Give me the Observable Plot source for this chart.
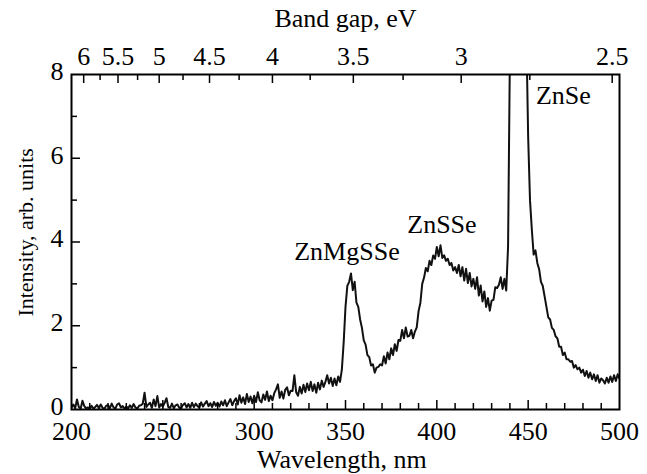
<!DOCTYPE html>
<html>
<head>
<meta charset="utf-8">
<script src="https://cdn.jsdelivr.net/npm/d3@7"></script>
<script src="https://cdn.jsdelivr.net/npm/@observablehq/plot@0.6"></script>
<style>
  html, body { margin: 0; padding: 0; background: #fff; }
  #chart { width: 647px; height: 474px; }
</style>
</head>
<body>
<div id="chart"></div>
<script>
// Wavelength grid (nm) and intensity values (arb. units)
const wavelengthStart = 200;
const intensity = [
  0.05,0.12,0.03,0.24,0.06,0.02,0.21,0.08,0.03,0.05,
  0.02,0.09,0.02,0.06,0.11,0.03,0.12,0.04,0.02,0.09,
  0.10,0.03,0.14,0.05,0.02,0.12,0.15,0.05,0.08,0.02,
  0.07,0.03,0.10,0.04,0.13,0.05,0.02,0.09,0.10,0.14,
  0.40,0.06,0.12,0.16,0.04,0.24,0.08,0.32,0.05,0.13,
  0.07,0.16,0.27,0.06,0.04,0.14,0.03,0.10,0.12,0.04,
  0.03,0.11,0.15,0.05,0.13,0.04,0.16,0.06,0.14,0.08,
  0.05,0.17,0.07,0.14,0.20,0.08,0.15,0.06,0.18,0.09,
  0.16,0.07,0.19,0.10,0.22,0.08,0.17,0.25,0.10,0.20,
  0.27,0.12,0.34,0.16,0.29,0.13,0.37,0.18,0.31,0.15,
  0.33,0.18,0.41,0.22,0.17,0.36,0.23,0.43,0.20,0.33,
  0.22,0.39,0.48,0.60,0.28,0.43,0.26,0.47,0.53,0.34,
  0.45,0.44,0.82,0.41,0.33,0.54,0.38,0.59,0.42,0.62,
  0.46,0.66,0.44,0.60,0.40,0.64,0.48,0.69,0.54,0.66,
  0.82,0.62,0.76,0.56,0.74,0.58,0.79,0.66,0.95,1.60,
  2.45,2.95,3.05,3.25,2.85,3.05,2.55,2.45,2.15,1.95,
  1.65,1.55,1.30,1.25,1.05,1.08,0.88,1.00,1.02,1.08,
  1.05,1.27,1.10,1.36,1.20,1.46,1.30,1.56,1.40,1.66,
  1.64,1.90,1.70,1.96,1.74,1.76,1.90,1.70,1.86,1.96,
  2.35,2.55,3.00,3.15,3.38,3.30,3.55,3.45,3.68,3.60,
  3.88,3.66,3.92,3.62,3.68,3.55,3.60,3.45,3.50,3.32,
  3.40,3.26,3.45,3.18,3.40,3.08,3.36,3.02,3.26,2.94,
  3.12,2.88,3.16,2.72,2.96,2.58,2.82,2.45,2.66,2.36,
  2.60,2.62,2.92,2.90,2.98,3.16,2.88,3.12,2.84,3.90,
  8.50,10.0,11.0,12.0,12.0,11.5,11.0,10.5,10.0,9.00,
  6.50,5.00,4.30,3.70,3.80,3.50,3.35,3.05,2.95,2.70,
  2.45,2.20,2.15,1.95,1.90,1.75,1.70,1.50,1.50,1.30,
  1.36,1.20,1.20,1.14,1.16,1.00,1.06,0.96,1.00,0.88,
  0.95,0.80,0.92,0.76,0.88,0.72,0.84,0.68,0.82,0.64,
  0.74,0.70,0.62,0.76,0.64,0.79,0.66,0.82,0.68,0.84,
  0.74
];

// Axis tick values
const bottomLabels = [200, 250, 300, 350, 400, 450, 500];
const bottomMinor = [210,220,230,240,260,270,280,290,310,320,330,340,360,370,380,390,410,420,430,440,460,470,480,490];
const bottomMajor = [250, 300, 350, 400, 450];
const leftLabels = [0, 2, 4, 6, 8];
const leftMinor = [1, 3, 5, 7];
const leftMajor = [2, 4, 6];
const energyLabels = [6, 5.5, 5, 4.5, 4, 3.5, 3, 2.5];
const energyMinor = [5.75, 5.25, 4.75, 4.25, 3.75, 3.25, 2.75];

// Peak annotations
const peakNames = ["ZnMgSSe", "ZnSSe", "ZnSe"];
const peakX = [350.8, 402.8, 469.3];
const peakY = [3.77, 4.42, 7.5];

// Titles
const xTitle = "Wavelength, nm";
const yTitle = "Intensity, arb. units";
const topTitle = "Band gap, eV";

const HC = 1240; // eV·nm conversion for the top axis

const spectrum = intensity.map((v, i) => ({wl: wavelengthStart + i, v}));
const peaks = peakNames.map((name, i) => ({name, x: peakX[i], y: peakY[i]}));

const W = 647, H = 474;
const mL = 71, mR = 28, mT = 74, mB = 65;
const innerW = W - mL - mR, innerH = H - mT - mB;
const minorLen = 6, majorLen = 9;
const FS = 26;
const font = "'Liberation Serif', Tinos, 'Times New Roman', 'Noto Serif', 'DejaVu Serif', serif";
const txt = {fill: "#000", fontSize: FS, lineAnchor: "middle"};

const chart = Plot.plot({
  width: W,
  height: H,
  marginLeft: mL,
  marginRight: mR,
  marginTop: mT,
  marginBottom: mB,
  x: {domain: [200, 500], axis: null},
  y: {domain: [0, 8], axis: null},
  style: {fontFamily: font, fontSize: FS + "px", background: "#fff", color: "#000"},
  marks: [
    // spectrum
    Plot.line(spectrum, {x: "wl", y: "v", stroke: "#111", strokeWidth: 2, clip: true, strokeLinejoin: "round"}),
    // bottom ticks (inward)
    Plot.tickX(bottomMinor, {x: d => d, stroke: "#000", strokeWidth: 1.5, insetTop: innerH - minorLen}),
    Plot.tickX(bottomMajor, {x: d => d, stroke: "#000", strokeWidth: 1.5, insetTop: innerH - majorLen}),
    // top ticks (inward), band gap energies converted to wavelength
    Plot.tickX(energyMinor, {x: e => HC / e, stroke: "#000", strokeWidth: 1.5, insetBottom: innerH - minorLen}),
    Plot.tickX(energyLabels, {x: e => HC / e, stroke: "#000", strokeWidth: 1.5, insetBottom: innerH - majorLen}),
    // left ticks (inward)
    Plot.tickY(leftMinor, {y: d => d, stroke: "#000", strokeWidth: 1.5, insetRight: innerW - minorLen}),
    Plot.tickY(leftMajor, {y: d => d, stroke: "#000", strokeWidth: 1.5, insetRight: innerW - majorLen}),
    // frame
    Plot.frame({stroke: "#000", strokeWidth: 2}),
    // bottom tick labels
    Plot.text(bottomLabels, {...txt, x: d => d, y: 0, text: d => String(d), dy: 22}),
    // left tick labels
    Plot.text(leftLabels, {...txt, x: 200, y: d => d, text: d => String(d), dx: -8, dy: -3, textAnchor: "end"}),
    // top tick labels
    Plot.text(energyLabels, {...txt, x: e => HC / e, y: 8, text: e => String(e), dy: -18}),
    // titles
    Plot.text([xTitle], {...txt, x: 348, y: 0, text: d => d, dy: 50}),
    Plot.text([topTitle], {...txt, x: 350, y: 8, text: d => d, dy: -56}),
    Plot.text([yTitle], {...txt, fontSize: 22, x: 200, y: 4.23, text: d => d, dx: -46, rotate: -90}),
    // peak labels
    Plot.text(peaks, {...txt, x: "x", y: "y", text: "name"})
  ]
});

document.getElementById("chart").appendChild(chart);
</script>
</body>
</html>
